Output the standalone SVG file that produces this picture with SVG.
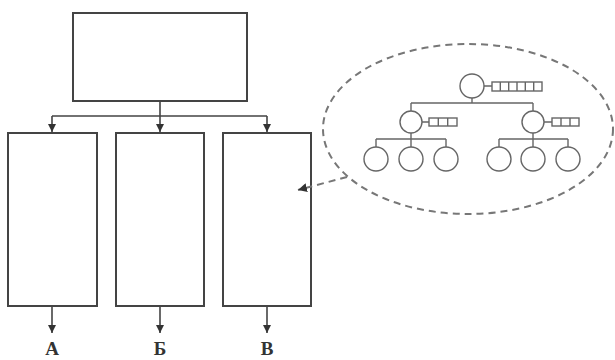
<svg xmlns="http://www.w3.org/2000/svg" width="615" height="360" viewBox="0 0 615 360">
<defs>
<style>
.box{fill:#fff;stroke:#444;stroke-width:2}
.ln{fill:none;stroke:#444;stroke-width:1.6}
.tr{fill:#fff;stroke:#666;stroke-width:1.4}
.tl{fill:none;stroke:#666;stroke-width:1.4}
.dash{fill:none;stroke:#777;stroke-width:2;stroke-dasharray:7 5}
.lbl{font-family:"Liberation Serif",serif;font-weight:bold;font-size:19px;fill:#333;text-anchor:middle}
</style>
<marker id="ah" viewBox="0 0 10 10" refX="10" refY="5" markerWidth="8" markerHeight="8" markerUnits="userSpaceOnUse" orient="auto">
<path d="M0,0 L10,5 L0,10 Z" fill="#333"/>
</marker>
<marker id="ah2" viewBox="0 0 10 10" refX="10" refY="5" markerWidth="9" markerHeight="9" markerUnits="userSpaceOnUse" orient="auto">
<path d="M0,0 L10,5 L0,10 Z" fill="#333"/>
</marker>
</defs>
<g id="top"><rect class="box" x="73" y="13" width="174" height="88"/></g>
<g id="boxA"><rect class="box" x="8" y="133" width="89" height="173"/></g>
<g id="boxB"><rect class="box" x="116" y="133" width="88" height="173"/></g>
<g id="boxC"><rect class="box" x="223" y="133" width="88" height="173"/></g>
<g id="connectors">
<path class="ln" d="M160,101 V116 M52,116 H267"/>
<path class="ln" d="M52,116 V132" marker-end="url(#ah)"/>
<path class="ln" d="M160,116 V132" marker-end="url(#ah)"/>
<path class="ln" d="M267,116 V132" marker-end="url(#ah)"/>
<path class="ln" d="M52,307 V333" marker-end="url(#ah)"/>
<path class="ln" d="M160,307 V333" marker-end="url(#ah)"/>
<path class="ln" d="M267,307 V333" marker-end="url(#ah)"/>
<path class="dash" d="M347,177 L298,190" marker-end="url(#ah2)"/>
</g>
<g id="labels">
<text class="lbl" x="52" y="355">А</text>
<text class="lbl" x="160" y="355">Б</text>
<text class="lbl" x="267" y="355">В</text>
</g>
<g id="detail">
<ellipse class="dash" cx="468" cy="129" rx="145" ry="85"/>
<path class="tl" d="M472,98 V103 M411,103 H533 M411,103 V111 M533,103 V111 M484,86 H492 M422,122 H429 M544,122 H552 M376,139 H446 M411,133 V139 M376,139 V147 M411,139 V147 M446,139 V147 M499,139 H568 M533,133 V139 M499,139 V147 M533,139 V147 M568,139 V147"/>
<circle class="tr" cx="472" cy="86" r="12"/>
<circle class="tr" cx="411" cy="122" r="11"/>
<circle class="tr" cx="533" cy="122" r="11"/>
<circle class="tr" cx="376" cy="159" r="12"/>
<circle class="tr" cx="411" cy="159" r="12"/>
<circle class="tr" cx="446" cy="159" r="12"/>
<circle class="tr" cx="499" cy="159" r="12"/>
<circle class="tr" cx="533" cy="159" r="12"/>
<circle class="tr" cx="568" cy="159" r="12"/>
<rect class="tr" x="492" y="82" width="50" height="9"/>
<path class="tl" d="M500.3,82 V91 M508.7,82 V91 M517,82 V91 M525.3,82 V91 M533.7,82 V91"/>
<rect class="tr" x="429" y="118" width="28" height="8"/>
<path class="tl" d="M438.3,118 V126 M447.7,118 V126"/>
<rect class="tr" x="552" y="118" width="27" height="8"/>
<path class="tl" d="M561,118 V126 M570,118 V126"/>
</g>
</svg>
